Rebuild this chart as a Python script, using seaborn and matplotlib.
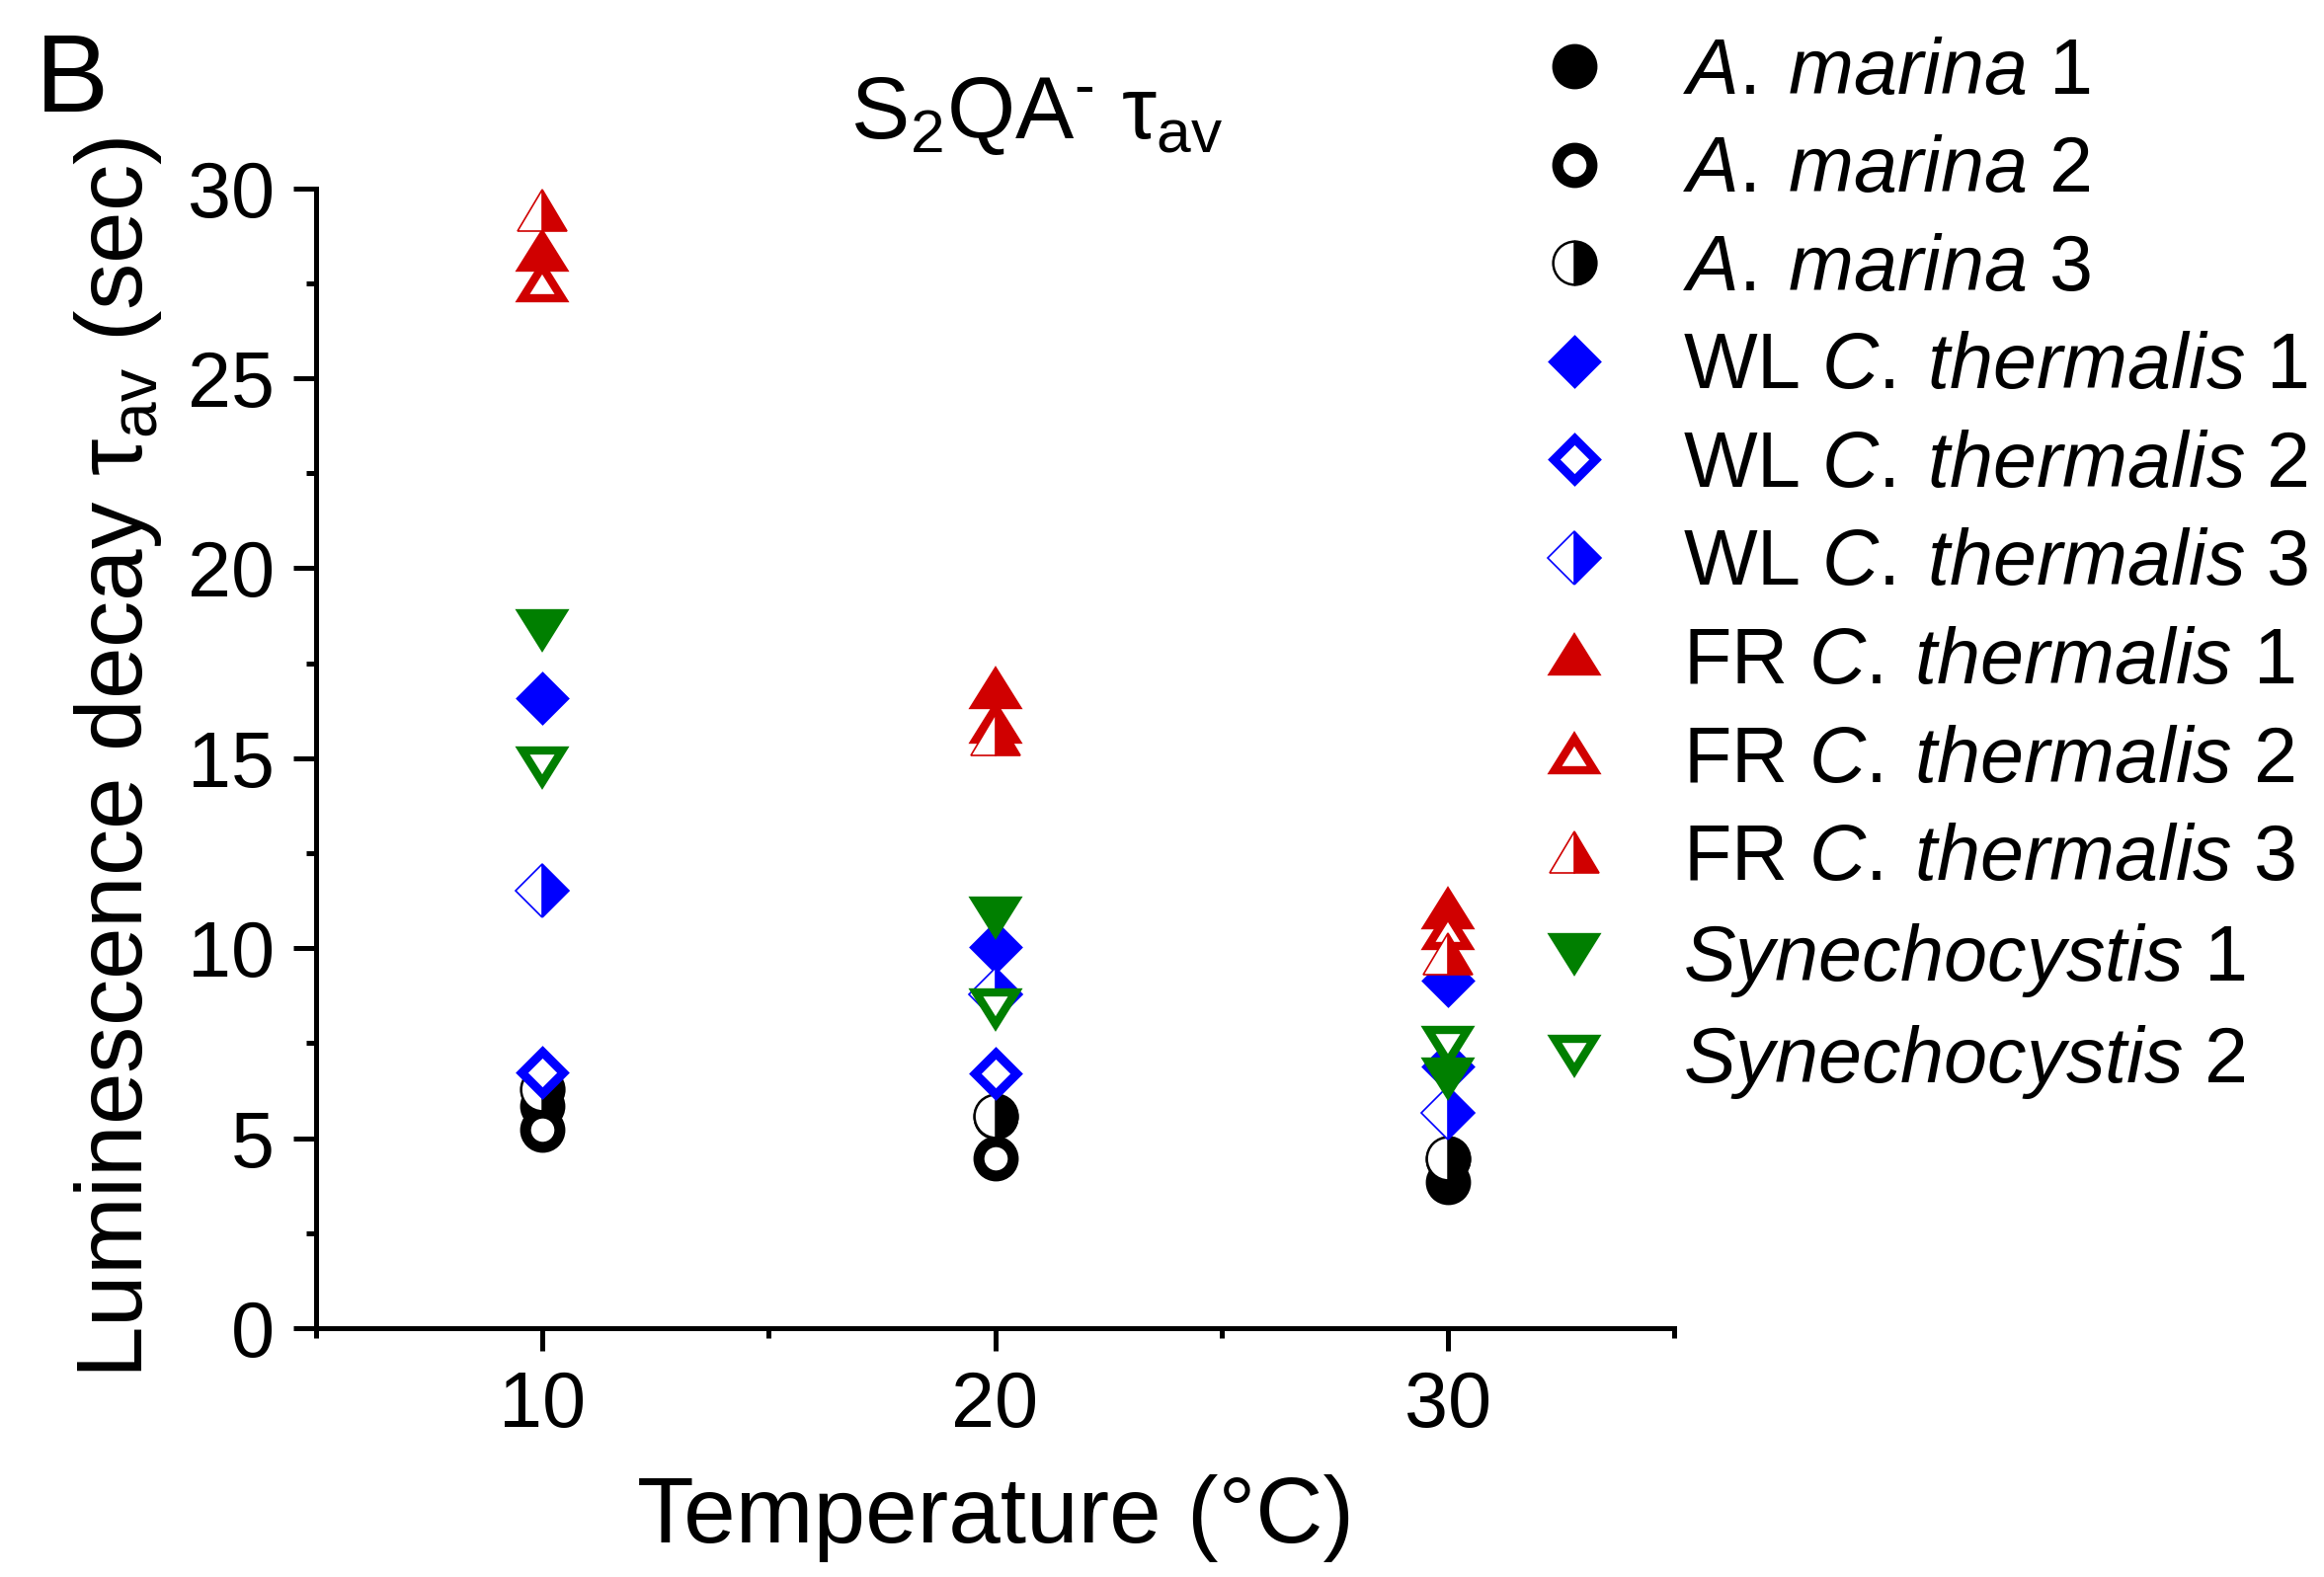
import matplotlib
matplotlib.use("Agg")
import matplotlib.pyplot as plt
import seaborn as sns
import pandas as pd
from matplotlib.markers import MarkerStyle
from matplotlib.transforms import Affine2D
from matplotlib.ticker import MultipleLocator, FixedLocator

# ---------------- data ----------------
temperature = [10, 20, 30]
a_marina_1 = [5.85, 5.55, 3.85]
a_marina_2 = [5.22, 4.48, 4.45]
a_marina_3 = [6.30, 5.59, 4.48]
wl_ct_1 = [16.57, 10.03, 9.15]
wl_ct_2 = [6.74, 6.71, 6.89]
wl_ct_3 = [11.52, 8.79, 5.67]
fr_ct_1 = [28.33, 16.81, 11.02]
fr_ct_2 = [27.52, 15.90, 10.48]
fr_ct_3 = [29.43, 15.62, 9.85]
syn_1 = [18.41, 10.85, 6.61]
syn_2 = [14.79, 8.43, 7.43]

series_labels = [
    r"$\mathit{A.\:marina}$ 1",
    r"$\mathit{A.\:marina}$ 2",
    r"$\mathit{A.\:marina}$ 3",
    r"WL $\mathit{C.\:thermalis}$ 1",
    r"WL $\mathit{C.\:thermalis}$ 2",
    r"WL $\mathit{C.\:thermalis}$ 3",
    r"FR $\mathit{C.\:thermalis}$ 1",
    r"FR $\mathit{C.\:thermalis}$ 2",
    r"FR $\mathit{C.\:thermalis}$ 3",
    r"$\mathit{Synechocystis}$ 1",
    r"$\mathit{Synechocystis}$ 2",
]
series_values = [a_marina_1, a_marina_2, a_marina_3, wl_ct_1, wl_ct_2, wl_ct_3,
                 fr_ct_1, fr_ct_2, fr_ct_3, syn_1, syn_2]

# ---------------- style ----------------
sns.set_style("ticks")
plt.rcParams["font.family"] = ["Liberation Sans", "DejaVu Sans"]
plt.rcParams["mathtext.fontset"] = "custom"
plt.rcParams["mathtext.rm"] = "Liberation Sans"
plt.rcParams["mathtext.it"] = "Liberation Sans:italic"
plt.rcParams["mathtext.bf"] = "Liberation Sans:bold"
for k in ["text.color", "axes.labelcolor", "xtick.color", "ytick.color",
          "axes.edgecolor"]:
    plt.rcParams[k] = "black"

BLACK = "#000000"
BLUE = "#0000FF"
RED = "#D00000"
GREEN = "#007F00"

tri_tf = Affine2D().scale(1.18, 0.98)

def tri(kind, fill="full"):
    return MarkerStyle(kind, fillstyle=fill, transform=tri_tf)

# marker, color, face, ms, mew
styles = [
    (MarkerStyle("o"), BLACK, BLACK, 25, 8),
    (MarkerStyle("o"), BLACK, "white", 25, 8),
    (MarkerStyle("o", fillstyle="right"), BLACK, BLACK, 31.5, 1.8),
    (MarkerStyle("D"), BLUE, BLUE, 21.5, 6.5),
    (MarkerStyle("D"), BLUE, "white", 21.5, 6.5),
    (MarkerStyle("D", fillstyle="right"), BLUE, BLUE, 27, 1.2),
    (tri("^"), RED, RED, 24, 6),
    (tri("^"), RED, "white", 24, 6),
    (tri("^", "right"), RED, RED, 31, 1.2),
    (tri("v"), GREEN, GREEN, 24, 6),
    (tri("v"), GREEN, "white", 24, 6),
]

W, H = 2353, 1597
fig = plt.figure(figsize=(W / 100, H / 100), dpi=100)
ax = fig.add_axes([320 / W, 1 - 1345 / H, 1375 / W, (1345 - 190.7) / H])

for lab, vals, (mk, col, face, ms, mew) in zip(series_labels, series_values, styles):
    df = pd.DataFrame({"T": temperature, "tau": vals})
    sns.lineplot(data=df, x="T", y="tau", ax=ax, estimator=None, sort=False,
                 marker=mk, linestyle="none", color=col,
                 markerfacecolor=face, markerfacecoloralt="white",
                 markeredgecolor=col, markersize=ms, markeredgewidth=mew,
                 clip_on=False, label=lab, legend=False)

ax.set_xlim(5, 35)
ax.set_ylim(0, 30)
ax.xaxis.set_major_locator(FixedLocator([10, 20, 30]))
ax.xaxis.set_minor_locator(FixedLocator([5, 15, 25, 35]))
ax.yaxis.set_major_locator(MultipleLocator(5))
ax.yaxis.set_minor_locator(MultipleLocator(2.5))

for s in ["top", "right"]:
    ax.spines[s].set_visible(False)
for s in ["left", "bottom"]:
    ax.spines[s].set_linewidth(3.6)
    ax.spines[s].set_color("black")

ax.tick_params(axis="both", which="major", direction="out", length=16.5,
               width=3.6, pad=14, labelsize=57, color="black", labelcolor="black")
ax.tick_params(axis="both", which="minor", direction="out", length=7.5,
               width=3.6, color="black")

ax.set_xlabel("Temperature (°C)", fontsize=68, labelpad=22, color="black")
ax.set_ylabel(r"Luminescence decay τ$_{\mathrm{av}}$ (sec)", fontsize=68,
              labelpad=17, color="black")

fig.text(1050 / W, 1 - 140 / H, "S$_2$QA$^{\u2010}$ τ$_{\\mathrm{av}}$",
         ha="center", va="baseline", fontsize=64, color="black")
fig.text(36 / W, 1 - 113 / H, "B", ha="left", va="baseline", fontsize=80,
         color="black")

handles = ax.get_lines()
ax.legend(handles, series_labels, loc="upper left",
          bbox_to_anchor=(1554 / W, 0.977), bbox_transform=fig.transFigure,
          frameon=False, borderpad=0, borderaxespad=0, handlelength=1.0,
          handletextpad=0.9, labelspacing=0.31, fontsize=57, numpoints=1,
          labelcolor="black")

fig.savefig("out.png", dpi=100, facecolor="white")
